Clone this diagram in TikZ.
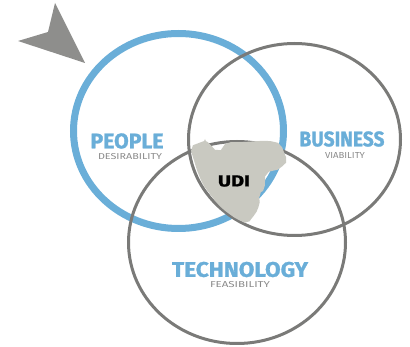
\documentclass[tikz,border=0pt]{standalone}
\usepackage{fontspec}
\setsansfont{Fira Sans}[BoldFeatures={FakeBold=1.2}]
\usepackage{graphicx}
\usepackage{tikz}
\usetikzlibrary{positioning, shapes.geometric}
\definecolor{udiblue}{HTML}{6AAED8}
\definecolor{ringgray}{HTML}{7A7A78}
\definecolor{arrowgray}{HTML}{8E8E8C}
\definecolor{blobgray}{HTML}{C9C9C1}
\definecolor{subgray}{HTML}{8A8A8A}
\newcommand{\fitlabel}[3]{\resizebox{#1pt}{#2pt}{#3}} % squeeze a word into w x h
\tikzset{
every node/.style={font=\sffamily}, % all text in the sans face
ring/.style={draw, ellipse, inner sep=0pt}, % the three Venn rings
}

\begin{document}
\begin{tikzpicture}[x=1pt, y=-1pt,
    bluering/.style = {ring, draw=udiblue, line width=7pt},
    grayring/.style = {ring, draw=ringgray, line width=3pt},
    head/.style = {text=udiblue, font=\sffamily\bfseries, inner sep=0pt},
    sub/.style = {text=subgray, font=\sffamily, inner sep=0pt}]
    \useasboundingbox (0,0) rectangle (410,347);

    % the three rings
    \node[bluering, minimum width=210pt, minimum height=195pt] (people) at (178.5,131) {};
    \node[grayring, minimum width=212pt, minimum height=192pt] (business) at (294.5,139.5) {};
    \node[grayring, minimum width=217pt, minimum height=202pt] (tech) at (237,242.5) {};

    % pointer
    \fill[arrowgray] (85,63) -- (18,41) -- (48,32) -- (55,3) -- cycle;

    % scribbled centre
    \fill[blobgray, rounded corners=3pt] plot[smooth cycle, tension=0.4] coordinates {
        (192,148) (205,142) (218,150) (228,143) (243,142) (268,141) (280,145)
        (286,160) (280,168) (267,174) (264,188) (260,195) (259,205) (255,214)
        (247,222) (237,219) (223,209) (213,198) (203,184) (196,167)};
    \node[font=\sffamily\bfseries, inner sep=0pt] (udi) at (234,181) {\fitlabel{32}{11}{UDI}};

    % labels
    \node[head] (peopletxt) at (127,141) {\fitlabel{73}{15}{PEOPLE}};
    \node[sub] (desire) at (130,156.5) {\fitlabel{64}{6}{DESIRABILITY}};
    \node[head] (businesstxt) at (342,139) {\fitlabel{85}{15}{BUSINESS}};
    \node[sub] (viable) at (345,155.5) {\fitlabel{40}{6}{VIABILITY}};
    \node[head] (techtxt) at (240,269.5) {\fitlabel{136}{15}{TECHNOLOGY}};
    \node[sub] (feasible) at (240,285) {\fitlabel{60}{6}{FEASIBILITY}};
\end{tikzpicture}
\end{document}
